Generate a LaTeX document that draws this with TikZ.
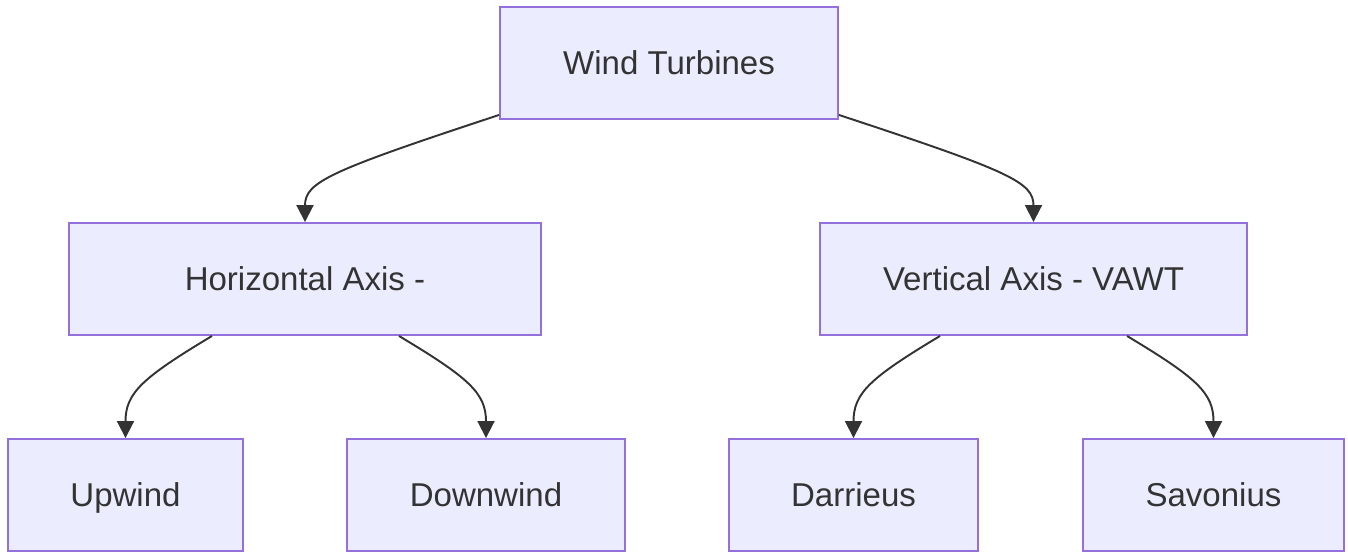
\documentclass[tikz,border=0pt]{standalone}
\usepackage{fontspec}
\setmainfont{Liberation Sans}
\usetikzlibrary{arrows.meta}
\definecolor{boxfill}{HTML}{ECECFF}
\definecolor{boxline}{HTML}{9370DB}
\definecolor{ink}{HTML}{333333}
\tikzset{
  box/.style={draw=boxline, fill=boxfill, line width=1.1pt, text=ink,
    font=\fontsize{18.8}{22}\selectfont, inner sep=0pt, minimum height=2.24cm,
    text height=13.5pt, text depth=0pt},
  link/.style={draw=ink, line width=1.1pt,
    -{Triangle[length=0.34cm, width=0.34cm]}}
}
\begin{document}
\begin{tikzpicture}[x=0.02cm, y=-0.02cm]
\useasboundingbox (0,0) rectangle (1348,551);
\node[box, minimum width=6.76cm] (wt) at (669,63) {Wind Turbines};
\node[box, minimum width=9.44cm] (h) at (305,279) {Horizontal Axis -};
\node[box, minimum width=8.54cm] (v) at (1033.5,279) {Vertical Axis - VAWT};
\node[box, minimum width=4.70cm] (up) at (125.5,495) {Upwind};
\node[box, minimum width=5.56cm] (dn) at (486,495) {Downwind};
\node[box, minimum width=4.98cm] (da) at (853.5,495) {Darrieus};
\node[box, minimum width=5.22cm] (sa) at (1213.5,495) {Savonius};

\draw[link] ([yshift=0.1cm]wt.south west) .. controls +(-170,56) and +(0,-40) .. (h.north);
\draw[link] ([yshift=0.1cm]wt.south east) .. controls +(170,56) and +(0,-40) .. (v.north);
\draw[link] ([xshift=-1.86cm]h.south) .. controls +(-70,42) and +(0,-45) .. (up.north);
\draw[link] ([xshift=1.88cm]h.south) .. controls +(70,42) and +(0,-45) .. (dn.north);
\draw[link] ([xshift=-1.87cm]v.south) .. controls +(-70,42) and +(0,-45) .. (da.north);
\draw[link] ([xshift=1.87cm]v.south) .. controls +(70,42) and +(0,-45) .. (sa.north);
\end{tikzpicture}
\end{document}
